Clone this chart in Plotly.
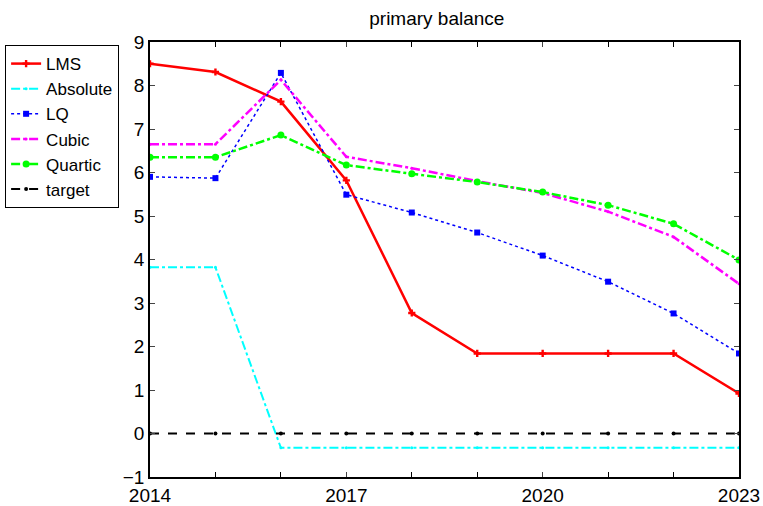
import plotly.graph_objects as go

years = [2014, 2015, 2016, 2017, 2018, 2019, 2020, 2021, 2022, 2023]
lms = [8.50, 8.31, 7.63, 5.82, 2.77, 1.84, 1.84, 1.84, 1.84, 0.92]
absolute = [3.82, 3.82, -0.33, -0.33, -0.33, -0.33, -0.33, -0.33, -0.33, -0.33]
lq = [5.90, 5.87, 8.29, 5.49, 5.08, 4.62, 4.09, 3.49, 2.76, 1.84]
cubic = [6.65, 6.65, 8.13, 6.36, 6.10, 5.80, 5.53, 5.10, 4.52, 3.44]
quartic = [6.35, 6.35, 6.86, 6.17, 5.97, 5.78, 5.55, 5.25, 4.82, 3.99]
target = [0, 0, 0, 0, 0, 0, 0, 0, 0, 0]

x_ticks = [2014, 2017, 2020, 2023]
y_ticks = [-1, 0, 1, 2, 3, 4, 5, 6, 7, 8, 9]

fig = go.Figure()
fig.add_trace(go.Scatter(x=years, y=lms, name="LMS", mode="lines+markers",
                         line=dict(color="#ff0000", width=2.5),
                         marker=dict(symbol="cross", size=6, color="#ff0000")))
fig.add_trace(go.Scatter(x=years, y=absolute, name="Absolute", mode="lines+markers",
                         line=dict(color="#00ffff", width=2, dash="dashdot"),
                         marker=dict(symbol="circle", size=3, color="#00ffff")))
fig.add_trace(go.Scatter(x=years, y=lq, name="LQ", mode="lines+markers",
                         line=dict(color="#0000ff", width=1.5, dash="dot"),
                         marker=dict(symbol="square", size=6, color="#0000ff")))
fig.add_trace(go.Scatter(x=years, y=cubic, name="Cubic", mode="lines+markers",
                         line=dict(color="#ff00ff", width=2.5, dash="dashdot"),
                         marker=dict(symbol="circle", size=3, color="#ff00ff")))
fig.add_trace(go.Scatter(x=years, y=quartic, name="Quartic", mode="lines+markers",
                         line=dict(color="#00ff00", width=2.5, dash="dashdot"),
                         marker=dict(symbol="circle", size=7, color="#00ff00")))
fig.add_trace(go.Scatter(x=years, y=target, name="target", mode="lines+markers",
                         line=dict(color="#000000", width=2, dash="dash"),
                         marker=dict(symbol="circle", size=4, color="#000000")))

fig.update_layout(
    width=763, height=506,
    margin=dict(l=150, r=24, t=42, b=29, autoexpand=False),
    paper_bgcolor="white", plot_bgcolor="white",
    font=dict(family="Liberation Sans, Arial, sans-serif", size=19, color="black"),
    title=dict(text="primary balance", x=0.487, xref="paper", xanchor="center",
               y=0.964, yref="container", yanchor="middle",
               font=dict(size=19, color="black")),
    legend=dict(x=-0.246, xanchor="left", y=0.993, yanchor="top",
                bordercolor="black", borderwidth=1, bgcolor="white",
                font=dict(size=17), tracegroupgap=0, itemwidth=30),
    showlegend=True,
)
fig.update_xaxes(range=[2014, 2023], tickvals=x_ticks, ticks="inside", ticklen=5,
                 showline=True, linecolor="black", linewidth=1.5, mirror="ticks",
                 showgrid=False, zeroline=False,
                 minor=dict(dtick=1, tick0=2014, ticks="inside", ticklen=5, tickcolor="black", showgrid=False))
fig.update_yaxes(range=[-1, 9], tickvals=y_ticks, ticks="inside", ticklen=5,
                 showline=True, linecolor="black", linewidth=1.5, mirror="ticks",
                 showgrid=False, zeroline=False)

fig.write_html("out.html", config={"displayModeBar": False},
               post_script="document.body.style.margin='0px';document.body.style.overflow='hidden';")
